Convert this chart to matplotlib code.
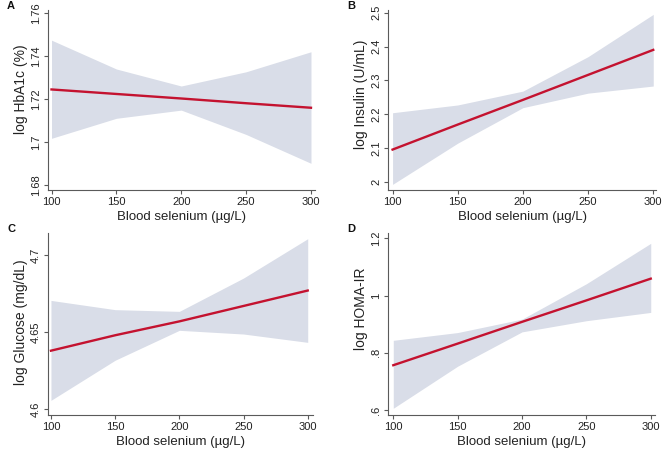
import matplotlib
matplotlib.use("Agg")
import matplotlib.pyplot as plt

plt.rcParams['font.family'] = ['Liberation Sans', 'DejaVu Sans']

# Data
selenium = [100, 150, 200, 250, 300]
x_ticks = [100, 150, 200, 250, 300]

hba1c_fit = [1.7244, 1.7223, 1.7202, 1.7180, 1.7159]
hba1c_lo = [1.7017, 1.7110, 1.7148, 1.7035, 1.6901]
hba1c_hi = [1.7473, 1.7339, 1.7260, 1.7326, 1.7419]

insulin_fit = [2.095, 2.169, 2.242, 2.316, 2.390]
insulin_lo = [1.992, 2.114, 2.219, 2.262, 2.283]
insulin_hi = [2.204, 2.227, 2.268, 2.370, 2.495]

glucose_fit = [4.638, 4.648, 4.657, 4.667, 4.677]
glucose_lo = [4.6058, 4.6318, 4.6512, 4.6488, 4.6434]
glucose_hi = [4.6706, 4.6646, 4.6635, 4.6851, 4.7106]

homa_fit = [0.7565, 0.832, 0.908, 0.983, 1.059]
homa_lo = [0.606, 0.753, 0.873, 0.912, 0.941]
homa_hi = [0.8435, 0.8706, 0.9176, 1.0412, 1.1824]

panels = [
    dict(letter="A", ylabel="log HbA1c (%)", fit=hba1c_fit, lo=hba1c_lo, hi=hba1c_hi,
         yticks=[1.68, 1.70, 1.72, 1.74, 1.76], ylabels=["1.68", "1.7", "1.72", "1.74", "1.76"],
         ylim=(1.6777, 1.7613), xlim=(97.3, 303.1), box=(48, 315, 10, 190), labely=0.56),
    dict(letter="B", ylabel="log Insulin (U/mL)", fit=insulin_fit, lo=insulin_lo, hi=insulin_hi,
         yticks=[2.0, 2.1, 2.2, 2.3, 2.4, 2.5], ylabels=["2", "2.1", "2.2", "2.3", "2.4", "2.5"],
         ylim=(1.9754, 2.508), xlim=(96.5, 302.5), box=(388, 656.5, 10, 190), labely=0.53),
    dict(letter="C", ylabel="log Glucose (mg/dL)", fit=glucose_fit, lo=glucose_lo, hi=glucose_hi,
         yticks=[4.6, 4.65, 4.7], ylabels=["4.6", "4.65", "4.7"],
         ylim=(4.5965, 4.7143), xlim=(97.7, 304.1), box=(48, 313, 233, 414.7), labely=0.51),
    dict(letter="D", ylabel="log HOMA-IR", fit=homa_fit, lo=homa_lo, hi=homa_hi,
         yticks=[0.6, 0.8, 1.0, 1.2], ylabels=[".6", ".8", "1", "1.2"],
         ylim=(0.5836, 1.2185), xlim=(95.9, 303.3), box=(388, 655, 233, 414.7), labely=0.585),
]

W, H = 669, 453
fig = plt.figure(figsize=(W / 100, H / 100), dpi=100)
fig.patch.set_facecolor("white")

axis_col = "#5a5a5a"
fill_col = "#d9dde8"
line_col = "#c4122f"

for p in panels:
    l, r, t, b = p["box"]
    ax = fig.add_axes([l / W, (H - b) / H, (r - l) / W, (b - t) / H])
    ax.fill_between(selenium, p["lo"], p["hi"], color=fill_col, linewidth=0)
    ax.plot(selenium, p["fit"], color=line_col, linewidth=1.7)
    ax.set_xlim(*p["xlim"])
    ax.set_ylim(*p["ylim"])
    ax.set_xticks(x_ticks)
    ax.set_xticklabels([str(v) for v in x_ticks], fontsize=8)
    ax.set_yticks(p["yticks"])
    ax.set_yticklabels(p["ylabels"], fontsize=8, rotation=90, va="center")
    for s in ["top", "right"]:
        ax.spines[s].set_visible(False)
    for s in ["left", "bottom"]:
        ax.spines[s].set_color(axis_col)
        ax.spines[s].set_linewidth(0.8)
    ax.tick_params(axis="both", direction="out", length=3, width=0.8, color=axis_col,
                   labelcolor="#222222", pad=2)
    ax.set_xlabel("Blood selenium (\u00b5g/L)", fontsize=9.5, color="#222222", labelpad=3)
    ax.set_ylabel(p["ylabel"], fontsize=10, color="#222222")
    ax.yaxis.set_label_coords(-20 / (r - l), p["labely"])
    fig.text((l - 41) / W, 1 - (t - 4) / H, p["letter"], fontsize=8, fontweight="bold",
             ha="left", va="center", color="#111111")

fig.savefig("out.png", dpi=100, facecolor="white")
